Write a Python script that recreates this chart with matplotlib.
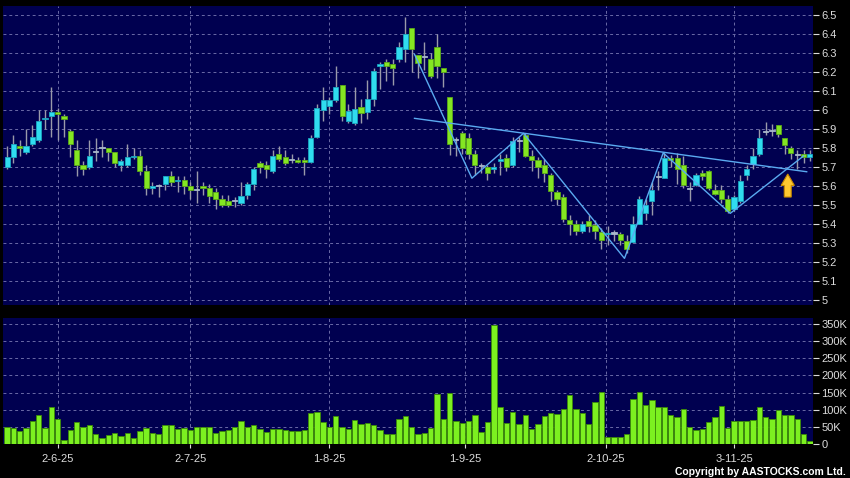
import numpy as np
import matplotlib
matplotlib.use("Agg")
import matplotlib.pyplot as plt
from matplotlib.patches import FancyArrow
from matplotlib.ticker import FuncFormatter, MultipleLocator

# daily candles, index 0 = 2-6-25 (first candle is index -8)
first_index = -8
opens = [5.70, 5.75, 5.81, 5.78, 5.82, 5.84, 5.95, 5.97,
         5.99, 5.97, 5.89, 5.79, 5.71, 5.70, 5.78, 5.80,
         5.80, 5.78, 5.71, 5.71, 5.75, 5.76, 5.68, 5.59,
         5.60, 5.61, 5.65, 5.625, 5.63, 5.60, 5.58, 5.60,
         5.59, 5.57, 5.53, 5.52, 5.52, 5.51, 5.55, 5.61,
         5.72, 5.71, 5.68, 5.77, 5.755, 5.735, 5.735, 5.735,
         5.725, 5.86, 6.00, 6.02, 6.05, 6.13, 5.94, 5.93,
         6.016, 5.99, 6.06, 6.23, 6.25, 6.24, 6.27, 6.32,
         6.43, 6.29, 6.28, 6.27, 6.33, 6.22, 6.07, 5.84,
         5.88, 5.85, 5.77, 5.705, 5.70, 5.69, 5.73, 5.745,
         5.71, 5.835, 5.867, 5.756, 5.735, 5.71, 5.656, 5.57,
         5.54, 5.42, 5.40, 5.365, 5.414, 5.396, 5.36, 5.345,
         5.35, 5.345, 5.31, 5.305, 5.40, 5.456, 5.523, 5.646,
         5.642, 5.745, 5.746, 5.71, 5.585, 5.604, 5.67, 5.68,
         5.58, 5.58, 5.533, 5.477, 5.52, 5.656, 5.714, 5.767,
         5.885, 5.89, 5.92, 5.85, 5.80, 5.762, 5.77, 5.75]
closes = [5.75, 5.82, 5.80, 5.81, 5.86, 5.94, 5.96, 5.99,
          5.98, 5.95, 5.82, 5.71, 5.69, 5.76, 5.78, 5.80,
          5.78, 5.72, 5.73, 5.75, 5.76, 5.68, 5.59, 5.60,
          5.60, 5.65, 5.62, 5.63, 5.60, 5.58, 5.58, 5.59,
          5.545, 5.53, 5.50, 5.50, 5.52, 5.545, 5.61, 5.69,
          5.70, 5.69, 5.76, 5.74, 5.72, 5.735, 5.725, 5.725,
          5.85, 6.01, 6.05, 6.05, 6.12, 5.97, 5.995, 6.005,
          5.986, 6.06, 6.205, 6.24, 6.23, 6.22, 6.33, 6.40,
          6.32, 6.245, 6.28, 6.18, 6.23, 6.20, 5.82, 5.84,
          5.80, 5.77, 5.71, 5.705, 5.67, 5.70, 5.74, 5.70,
          5.835, 5.835, 5.756, 5.735, 5.70, 5.67, 5.574, 5.53,
          5.425, 5.40, 5.365, 5.40, 5.39, 5.365, 5.316, 5.355,
          5.35, 5.316, 5.27, 5.40, 5.533, 5.498, 5.58, 5.646,
          5.746, 5.735, 5.69, 5.604, 5.585, 5.656, 5.65, 5.59,
          5.56, 5.53, 5.468, 5.54, 5.626, 5.69, 5.758, 5.85,
          5.885, 5.89, 5.872, 5.814, 5.772, 5.762, 5.75, 5.77]
highs = [5.81, 5.87, 5.84, 5.90, 5.92, 6.00, 6.00, 6.12,
         6.01, 5.98, 5.90, 5.84, 5.73, 5.84, 5.85, 5.84,
         5.80, 5.78, 5.74, 5.82, 5.80, 5.79, 5.71, 5.62,
         5.61, 5.65, 5.68, 5.65, 5.65, 5.62, 5.68, 5.62,
         5.61, 5.59, 5.55, 5.55, 5.54, 5.62, 5.62, 5.70,
         5.73, 5.73, 5.79, 5.81, 5.79, 5.77, 5.755, 5.755,
         5.87, 6.03, 6.12, 6.07, 6.23, 6.13, 6.03, 6.12,
         6.06, 6.16, 6.22, 6.25, 6.27, 6.27, 6.36, 6.49,
         6.43, 6.29, 6.36, 6.30, 6.40, 6.22, 6.07, 5.86,
         5.89, 5.88, 5.79, 5.72, 5.71, 5.72, 5.77, 5.77,
         5.86, 5.86, 5.88, 5.79, 5.755, 5.74, 5.67, 5.58,
         5.56, 5.45, 5.42, 5.415, 5.45, 5.42, 5.38, 5.39,
         5.37, 5.36, 5.34, 5.44, 5.547, 5.53, 5.62, 5.68,
         5.775, 5.765, 5.775, 5.76, 5.62, 5.67, 5.685, 5.685,
         5.61, 5.605, 5.555, 5.555, 5.66, 5.71, 5.80, 5.90,
         5.937, 5.925, 5.923, 5.85, 5.81, 5.79, 5.79, 5.79]
lows = [5.69, 5.72, 5.76, 5.77, 5.81, 5.83, 5.90, 5.86,
        5.84, 5.86, 5.75, 5.65, 5.66, 5.69, 5.73, 5.75,
        5.73, 5.70, 5.68, 5.70, 5.74, 5.66, 5.55, 5.56,
        5.54, 5.58, 5.60, 5.57, 5.56, 5.53, 5.51, 5.55,
        5.51, 5.48, 5.49, 5.49, 5.49, 5.50, 5.53, 5.58,
        5.67, 5.64, 5.67, 5.73, 5.71, 5.72, 5.72, 5.66,
        5.72, 5.85, 5.94, 5.98, 6.04, 5.94, 5.93, 5.92,
        5.93, 5.95, 6.02, 6.11, 6.15, 6.13, 6.25, 6.25,
        6.20, 6.17, 6.21, 6.17, 6.17, 6.12, 5.765, 5.76,
        5.77, 5.74, 5.66, 5.67, 5.63, 5.67, 5.66, 5.68,
        5.70, 5.78, 5.75, 5.68, 5.64, 5.62, 5.52, 5.50,
        5.41, 5.34, 5.34, 5.355, 5.36, 5.32, 5.267, 5.29,
        5.31, 5.29, 5.25, 5.30, 5.40, 5.42, 5.45, 5.58,
        5.64, 5.70, 5.61, 5.59, 5.52, 5.60, 5.63, 5.58,
        5.55, 5.51, 5.46, 5.47, 5.51, 5.63, 5.69, 5.76,
        5.867, 5.865, 5.86, 5.77, 5.74, 5.69, 5.72, 5.73]
volumes_k = [48.8, 45.8, 39, 47.8, 66.3, 83.9, 47.8, 109,
             72, 10.7, 42, 65.3, 49.7, 56.6, 30.2, 18.5,
             27.3, 31.2, 22.4, 33.2, 16.6, 37, 47.8, 33,
             30.2, 56.6, 56.6, 44.9, 46.8, 40, 48.8, 48.8,
             48.8, 32.2, 38, 42, 48.8, 68.3, 50.7, 56.6,
             44.9, 34, 43, 43, 40, 37, 37, 42,
             89.7, 94.6, 63.4, 48.8, 82.9, 48.8, 43, 71.2,
             58.5, 62.4, 55.6, 42, 29.3, 29.3, 72.2, 82,
             49.7, 30.2, 32.2, 45.8, 146, 74, 149, 67.3,
             61.4, 66.3, 84.8, 36, 64.4, 346, 108, 60.5,
             92.6, 59.5, 85.8, 44.9, 58.5, 81, 91.7, 87.8,
             101, 142, 102, 91.7, 58.5, 121, 151, 19.5,
             19.5, 20.5, 28.3, 131, 151, 113, 128, 108,
             109, 83.9, 79, 101, 48.8, 42, 43.9, 64.4,
             79, 112, 46.8, 67.3, 66.3, 66.3, 70.2, 108,
             78, 72.2, 99.5, 85.8, 84.8, 72.2, 28.3, 7.8]

date_ticks = [0, 21, 43, 64.5, 86.7, 107]
date_labels = ['2-6-25', '2-7-25', '1-8-25', '1-9-25', '2-10-25', '3-11-25']

# hand-drawn pattern lines (candle index, price)
neck_x = [56.45, 118.5]
neck_y = [5.956, 5.675]
zigzag_x = [56.45, 65.53, 73.69, 89.67, 95.8, 106.4, 118.0]
zigzag_y = [6.293, 5.641, 5.877, 5.219, 5.774, 5.456, 5.758]
arrow_x, arrow_base, arrow_tip = 115.5, 5.542, 5.663

BG = '#000050'
GRID = '#6a6aa6'
TXT = '#dcdcdc'
UP = '#30dcef'
DOWN = '#84e622'

o = np.array(opens)
c = np.array(closes)
h = np.array(highs)
l = np.array(lows)
v = np.array(volumes_k) * 1000
x = np.arange(first_index, first_index + len(o))

fig = plt.figure(figsize=(8.5, 4.78), dpi=100, facecolor='black')
ax = fig.add_axes([0.0039, 0.362, 0.9526, 0.6254], facecolor=BG)
axv = fig.add_axes([0.0039, 0.0711, 0.9526, 0.2636], facecolor=BG)

for a in (ax, axv):
    for s in a.spines.values():
        s.set_visible(False)
    a.set_xlim(-8.6, 119.5)
    a.set_xticks(date_ticks)
    a.grid(True, color=GRID, linestyle=(0, (3, 3)), linewidth=0.7)
    a.set_axisbelow(True)
    a.yaxis.tick_right()
    a.tick_params(axis='y', colors=TXT, length=4, width=0.8, pad=2, labelsize=8)
    for t in a.get_yticklabels():
        t.set_fontfamily('Liberation Sans')

# candles
colors = np.where(c > o, UP, np.where(c < o, DOWN, '#a8b8cc'))
edges = np.where(c > o, '#1aa6c0', np.where(c < o, '#5aa818', '#a8b8cc'))
ax.vlines(x, l, h, color='#9a9aaa', linewidth=1, zorder=2)
body_lo = np.minimum(o, c)
body_h = np.maximum(np.abs(c - o), 0.006)
ax.bar(x, body_h, bottom=body_lo, width=0.82, color=colors, edgecolor=edges,
       linewidth=0.6, zorder=3)

ax.plot(neck_x, neck_y, color='#5aaaf0', linewidth=1, zorder=4)
ax.plot(zigzag_x, zigzag_y, color='#5aaaf0', linewidth=1, zorder=4)
ax.add_patch(FancyArrow(arrow_x, arrow_base, 0, arrow_tip - arrow_base,
                        width=1.1, head_width=2.1, head_length=0.06,
                        length_includes_head=True, facecolor='#ffc830',
                        edgecolor='#c88a00', linewidth=0.8, zorder=5))

ax.set_ylim(4.974, 6.547)
ax.yaxis.set_major_locator(MultipleLocator(0.1))
ax.yaxis.set_major_formatter(FuncFormatter(lambda y, p: f'{y:g}' if y >= 4.99 else ''))
ax.tick_params(axis='x', length=0, labelbottom=False)

# volume
axv.bar(x, v, width=0.85, color='#7cf020', edgecolor='#3c8a08', linewidth=0.6, zorder=3)
axv.set_ylim(0, 367000)
axv.yaxis.set_major_locator(MultipleLocator(50000))
axv.yaxis.set_major_formatter(FuncFormatter(lambda y, p: '0' if y == 0 else f'{y/1000:.0f}K'))
axv.set_xticklabels(date_labels)
axv.tick_params(axis='x', colors=TXT, length=3, width=0.8, pad=4, labelsize=8)
for t in axv.get_xticklabels() + axv.get_yticklabels():
    t.set_fontfamily('Liberation Sans')

fig.text(846 / 850, 1 - 472 / 478, 'Copyright by AASTOCKS.com Ltd.', color='white',
         fontsize=7.5, fontweight='bold', family='Liberation Sans',
         ha='right', va='center')

fig.savefig('out.png', dpi=100, facecolor='black')
